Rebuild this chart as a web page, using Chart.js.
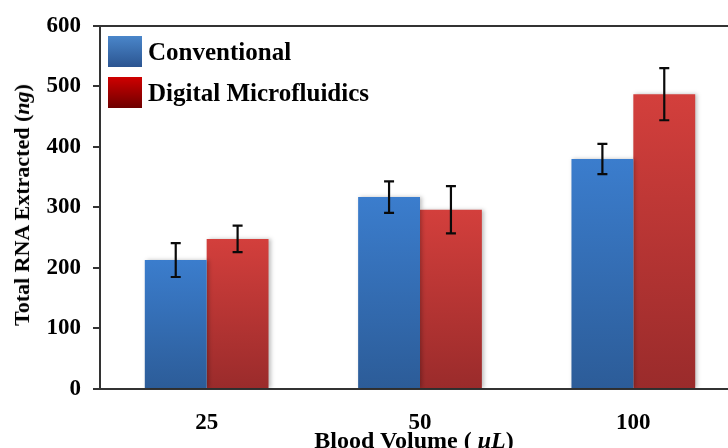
<!DOCTYPE html>
<html lang="en">

<head>
  <meta charset="UTF-8">
  <title>Total RNA Extracted</title>
  <style>
    body {
      margin: 0;
      width: 728px;
      height: 448px;
      overflow: hidden;
      background-color: #ffffff;
      font-family: 'Liberation Serif', 'Times New Roman', serif;
      font-weight: bold;
      color: #000;
    }

    #wrap {
      position: relative;
      width: 740px;
      height: 448px;
    }

    #chart {
      position: absolute;
      left: 0;
      top: 0;
    }

    .legend {
      position: absolute;
      left: 108px;
      font-size: 25px;
      line-height: 31px;
    }

    .legend .swatch {
      display: inline-block;
      width: 34px;
      height: 31px;
      vertical-align: top;
      margin-right: 6px;
    }

    #y-title {
      position: absolute;
      left: 22px;
      top: 205px;
      font-size: 22px;
      white-space: nowrap;
      transform: translate(-50%, -50%) rotate(-90deg);
    }

    #x-title {
      position: absolute;
      left: 414px;
      top: 427px;
      font-size: 24px;
      white-space: nowrap;
      transform: translateX(-50%);
    }
  </style>
</head>

<body>
  <div id="wrap">
    <canvas id="chart" width="740" height="448"></canvas>
    <div class="legend" style="top: 36px;">
      <span class="swatch" style="background: linear-gradient(#4a86ca, #2b5591);"></span>Conventional
    </div>
    <div class="legend" style="top: 77px;">
      <span class="swatch" style="background: linear-gradient(#cf0000, #6e0000);"></span>Digital Microfluidics
    </div>
    <div id="y-title">Total RNA Extracted (<i>ng</i>)</div>
    <div id="x-title">Blood Volume ( <i>μL</i>)</div>
  </div>

  <script src="https://cdn.jsdelivr.net/npm/chart.js"></script>

  <script>
    const volumes = ['25', '50', '100'];
    const conventional = [213, 317, 380];
    const conventionalErr = [28, 26, 25];
    const digital = [248, 296, 487];
    const digitalErr = [22, 39, 43];
    const yTicks = [0, 100, 200, 300, 400, 500, 600];

    // vertical gradient over each bar's own height
    function barGradient(top, bottom) {
      return (context) => {
        const chart = context.chart;
        const y = chart.scales.y;
        if (!y || context.raw === undefined) return top;
        const y0 = y.getPixelForValue(0);
        const y1 = y.getPixelForValue(context.raw);
        if (!isFinite(y0) || !isFinite(y1) || y0 === y1) return top;
        const g = chart.ctx.createLinearGradient(0, y1, 0, y0);
        g.addColorStop(0, top);
        g.addColorStop(1, bottom);
        return g;
      };
    }

    const errors = [conventionalErr, digitalErr];

    const errorBars = {
      id: 'errorBars',
      beforeDatasetsDraw(chart) {
        const ctx = chart.ctx;
        ctx.save();
        ctx.shadowColor = 'rgba(0, 0, 0, 0.25)';
        ctx.shadowBlur = 4;
        ctx.shadowOffsetX = 2;
      },
      afterDatasetsDraw(chart) {
        const ctx = chart.ctx;
        ctx.restore();
        const y = chart.scales.y;
        ctx.save();
        ctx.strokeStyle = '#0a0a0a';
        ctx.lineWidth = 2.2;
        chart.data.datasets.forEach((ds, i) => {
          const meta = chart.getDatasetMeta(i);
          meta.data.forEach((bar, j) => {
            const v = ds.data[j];
            const e = errors[i][j];
            const top = y.getPixelForValue(v + e);
            const bot = y.getPixelForValue(v - e);
            ctx.beginPath();
            ctx.moveTo(bar.x, top);
            ctx.lineTo(bar.x, bot);
            ctx.moveTo(bar.x - 5, top);
            ctx.lineTo(bar.x + 5, top);
            ctx.moveTo(bar.x - 5, bot);
            ctx.lineTo(bar.x + 5, bot);
            ctx.stroke();
          });
        });
        ctx.restore();
      }
    };

    const tickFont = { family: "'Liberation Serif', 'Times New Roman', serif", size: 23, weight: 'bold' };

    new Chart(document.getElementById('chart'), {
      type: 'bar',
      data: {
        labels: volumes,
        datasets: [{
          label: 'Conventional',
          data: conventional,
          backgroundColor: barGradient('#3b7dcd', '#2c5c98'),
          borderWidth: 0
        }, {
          label: 'Digital Microfluidics',
          data: digital,
          backgroundColor: barGradient('#d33f3c', '#9a2b2b'),
          borderWidth: 0
        }]
      },
      options: {
        responsive: false,
        animation: false,
        events: [],
        categoryPercentage: 0.58,
        barPercentage: 1,
        layout: { autoPadding: false, padding: { top: 14, left: 0, right: 0, bottom: 0 } },
        plugins: {
          legend: { display: false },
          tooltip: { enabled: false }
        },
        scales: {
          x: {
            grid: { display: false },
            border: { display: true, color: '#333', width: 2 },
            ticks: { color: '#000', font: tickFont, padding: 12 },
            afterFit: (scale) => { scale.height = 59; }
          },
          x2: {
            position: 'top',
            labels: volumes,
            grid: { display: false },
            border: { display: true, color: '#333', width: 2 },
            ticks: { display: false }
          },
          y: {
            min: 0,
            max: 600,
            afterBuildTicks: (scale) => { scale.ticks = yTicks.map(v => ({ value: v })); },
            grid: { drawOnChartArea: false, drawTicks: true, tickLength: 7, color: '#333', lineWidth: 2 },
            border: { display: true, color: '#333', width: 2 },
            ticks: { color: '#000', font: tickFont, padding: 12 },
            afterFit: (scale) => { scale.width = 100; }
          }
        }
      },
      plugins: [errorBars]
    });
  </script>
</body>

</html>
